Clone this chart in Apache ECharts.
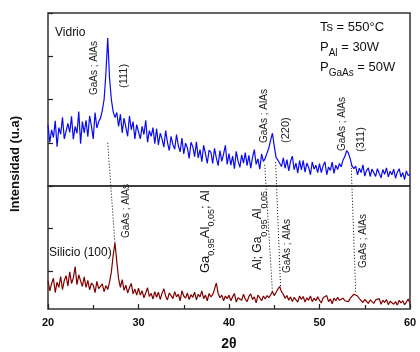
<!DOCTYPE html>
<html>
<head>
<meta charset="utf-8">
<script src="https://cdn.jsdelivr.net/npm/echarts@6/dist/echarts.min.js"></script>
<style>
  html, body { margin: 0; padding: 0; background: #fff; }
  #chart { width: 420px; height: 352px; }
</style>
</head>
<body>
<div id="chart"></div>
<script>
// 2θ grid of the scans (degrees)
const twoThetaStart = 20
const twoThetaStep = 0.2

// Vidrio (glass substrate) scan, arbitrary units
const vidrio = [
  141, 101, 130, 112, 151, 91, 135, 120, 159, 109,
  111, 145, 124, 161, 108, 138, 122, 172, 98, 149,
  123, 152, 114, 162, 138, 109, 170, 134, 149, 157,
  175, 200, 262, 342, 250, 200, 172, 158, 170, 138,
  166, 123, 157, 136, 115, 162, 130, 149, 109, 142,
  146, 109, 138, 119, 152, 101, 128, 115, 135, 98,
  133, 95, 122, 109, 90, 128, 101, 82, 115, 96,
  85, 119, 93, 79, 111, 74, 99, 88, 64, 101,
  91, 68, 102, 65, 84, 56, 94, 75, 52, 83,
  78, 52, 87, 65, 47, 82, 57, 74, 94, 50,
  75, 48, 69, 40, 80, 58, 43, 72, 53, 77,
  47, 71, 41, 66, 84, 50, 63, 39, 74, 57,
  64, 76, 88, 106, 122, 92, 66, 60, 64, 45,
  65, 41, 61, 35, 57, 69, 38, 53, 30, 59,
  37, 59, 32, 53, 43, 26, 56, 39, 48, 31,
  52, 31, 47, 56, 26, 44, 36, 55, 29, 48,
  38, 52, 44, 60, 68, 82, 76, 62, 46, 40,
  46, 26, 41, 31, 49, 23, 36, 42, 22, 39,
  37, 22, 40, 29, 19, 38, 27, 42, 21, 34,
  26, 39, 18, 32, 40, 21, 31, 15, 35, 24,
  27
]

// Silicio (100) substrate scan, arbitrary units
const silicio = [
  65, 42, 59, 71, 38, 62, 50, 75, 45, 66,
  77, 53, 86, 59, 72, 98, 56, 79, 65, 52,
  74, 50, 66, 44, 60, 55, 38, 64, 47, 43,
  58, 40, 54, 45, 62, 85, 124, 153, 110, 70,
  50, 68, 43, 55, 37, 49, 59, 35, 46, 32,
  48, 32, 42, 26, 37, 49, 29, 36, 23, 40,
  27, 39, 22, 36, 47, 30, 21, 37, 31, 24,
  40, 28, 34, 19, 42, 30, 25, 37, 22, 33,
  27, 39, 21, 34, 28, 42, 24, 32, 19, 36,
  28, 33, 46, 60, 36, 26, 32, 19, 30, 24,
  32, 19, 28, 36, 16, 26, 30, 20, 34, 23,
  17, 29, 35, 22, 28, 14, 32, 26, 19, 30,
  23, 31, 26, 33, 40, 31, 38, 46, 52, 40,
  34, 25, 31, 20, 28, 17, 27, 23, 16, 30,
  22, 29, 16, 26, 20, 30, 17, 25, 19, 28,
  20, 14, 26, 22, 31, 17, 23, 12, 25, 19,
  27, 20, 16, 25, 19, 23, 17, 25, 28, 34,
  38, 30, 24, 20, 15, 22, 18, 13, 21, 17,
  13, 21, 17, 24, 11, 20, 15, 22, 10, 18,
  21, 11, 17, 9, 20, 14, 19, 10, 16, 23,
  13
]

// dotted guides joining peaks: [2θ on glass, intensity on glass, 2θ on Si, intensity on Si]
const guides = [
  [26.6, 100, 27.4, 150],
  [43.95, 49, 44.8, 39],
  [45.15, 55, 45.7, 51],
  [53.5, 49, 54.0, 37]
]

const siTicks = [88, 187]

const FONT = 'Liberation Sans, Arial, sans-serif'
const toPairs = arr => arr.map((v, i) => [+(twoThetaStart + i * twoThetaStep).toFixed(1), v])

const chart = echarts.init(document.getElementById('chart'))

const option = {
  animation: false,
  backgroundColor: '#fff',
  grid: [
    { left: 48, right: 10, top: 13, height: 173, show: true, borderColor: '#333', borderWidth: 1.5 },
    { left: 48, right: 10, top: 186, height: 123, show: true, borderColor: '#333', borderWidth: 1.5 }
  ],
  xAxis: [
    { gridIndex: 0, type: 'value', min: 20, max: 60, show: false },
    {
      gridIndex: 1,
      type: 'value',
      min: 20,
      max: 60,
      interval: 10,
      axisLine: { show: false },
      axisTick: { inside: true, length: 5, lineStyle: { color: '#222', width: 1.2 } },
      minorTick: { show: true, splitNumber: 2, length: 4, lineStyle: { color: '#222', width: 1.2 } },
      splitLine: { show: false },
      axisLabel: { margin: 8, color: '#111', fontSize: 11, fontWeight: 'bold', fontFamily: FONT }
    }
  ],
  yAxis: [
    {
      gridIndex: 0,
      type: 'value',
      min: 0,
      max: 400,
      interval: 100,
      axisLine: { show: false },
      axisTick: { inside: true, length: 5, lineStyle: { color: '#222', width: 1.2 } },
      axisLabel: { show: false },
      splitLine: { show: false }
    },
    {
      gridIndex: 1,
      type: 'value',
      min: 0,
      max: 284,
      axisLine: { show: false },
      axisTick: { inside: true, length: 5, customValues: siTicks, lineStyle: { color: '#222', width: 1.2 } },
      axisLabel: { show: false },
      splitLine: { show: false }
    }
  ],
  series: [
    {
      name: 'Vidrio',
      type: 'line',
      xAxisIndex: 0,
      yAxisIndex: 0,
      data: toPairs(vidrio),
      showSymbol: false,
      symbol: 'none',
      lineStyle: { color: '#0a0af0', width: 1.2 }
    },
    {
      name: 'Silicio (100)',
      type: 'line',
      xAxisIndex: 1,
      yAxisIndex: 1,
      data: toPairs(silicio),
      showSymbol: false,
      symbol: 'none',
      lineStyle: { color: '#800000', width: 1.2 }
    }
  ]
}

chart.setOption(option)

// rotated annotation (reads bottom to top), x is the centre, y is where the text starts
function vText(x, y, text, size, rich) {
  const style = { text, fontSize: size, fontFamily: FONT, fill: '#222', align: 'left', verticalAlign: 'middle' }
  if (rich) style.rich = rich
  return { type: 'text', x, y, rotation: Math.PI / 2, style, z: 100 }
}

function hText(x, y, text, size, rich) {
  const style = { text, fontSize: size, fontFamily: FONT, fill: '#111', align: 'left', verticalAlign: 'middle' }
  if (rich) style.rich = rich
  return { type: 'text', x, y, style, z: 100 }
}

const subRich = (main, sub) => ({
  n: { fontSize: main, lineHeight: 22, fontFamily: FONT, fill: '#111' },
  s: { fontSize: sub, lineHeight: 10, verticalAlign: 'bottom', fontFamily: FONT, fill: '#111' }
})

const elements = []
guides.forEach(g => {
  const p1 = chart.convertToPixel({ gridIndex: 0 }, [g[0], g[1]])
  const p2 = chart.convertToPixel({ gridIndex: 1 }, [g[2], g[3]])
  elements.push({
    type: 'line',
    shape: { x1: p1[0], y1: p1[1], x2: p2[0], y2: p2[1] },
    style: { stroke: '#000', lineWidth: 1, lineDash: [1, 2] },
    z: 90
  })
})

elements.push(
  hText(55, 33, 'Vidrio', 12),
  hText(320, 27, 'Ts = 550°C', 13),
  hText(320, 47, '{n|P}{s|Al}{n| = 30W}', 13, subRich(13, 10)),
  hText(320, 67, '{n|P}{s|GaAs}{n| = 50W}', 13, subRich(13, 10)),
  hText(49, 253, 'Silicio (100)', 12),
  vText(94, 95, 'GaAs ; AlAs', 10),
  vText(124, 88, '(111)', 11),
  vText(264, 143, 'GaAs ; AlAs', 10),
  vText(286, 143, '(220)', 11),
  vText(342, 151, 'GaAs ; AlAs', 10),
  vText(361, 152, '(311)', 11),
  vText(126, 238, 'GaAs ; AlAs', 10),
  vText(205, 273, '{n|Ga}{s|0,95}{n|Al}{s|0,05}{n|; Al}', 13, subRich(13, 9)),
  vText(258, 270, '{n|Al; Ga}{s|0,95}{n|Al}{s|0,05}', 12, subRich(12, 9)),
  vText(287, 273, 'GaAs ; AlAs', 10),
  vText(363, 268, 'GaAs ; AlAs', 10),
  {
    type: 'text', x: 15, y: 164, rotation: Math.PI / 2, z: 100,
    style: { text: 'Intensidad (u.a)', fontSize: 13, fontWeight: 'bold', fontFamily: FONT, fill: '#111', align: 'center', verticalAlign: 'middle' }
  },
  {
    type: 'text', x: 229, y: 344, z: 100,
    style: { text: '2θ', fontSize: 14, fontWeight: 'bold', fontFamily: FONT, fill: '#111', align: 'center', verticalAlign: 'middle' }
  }
)

chart.setOption({ graphic: { elements } })

window.addEventListener('resize', () => {
  chart.resize()
})
</script>
</body>
</html>
